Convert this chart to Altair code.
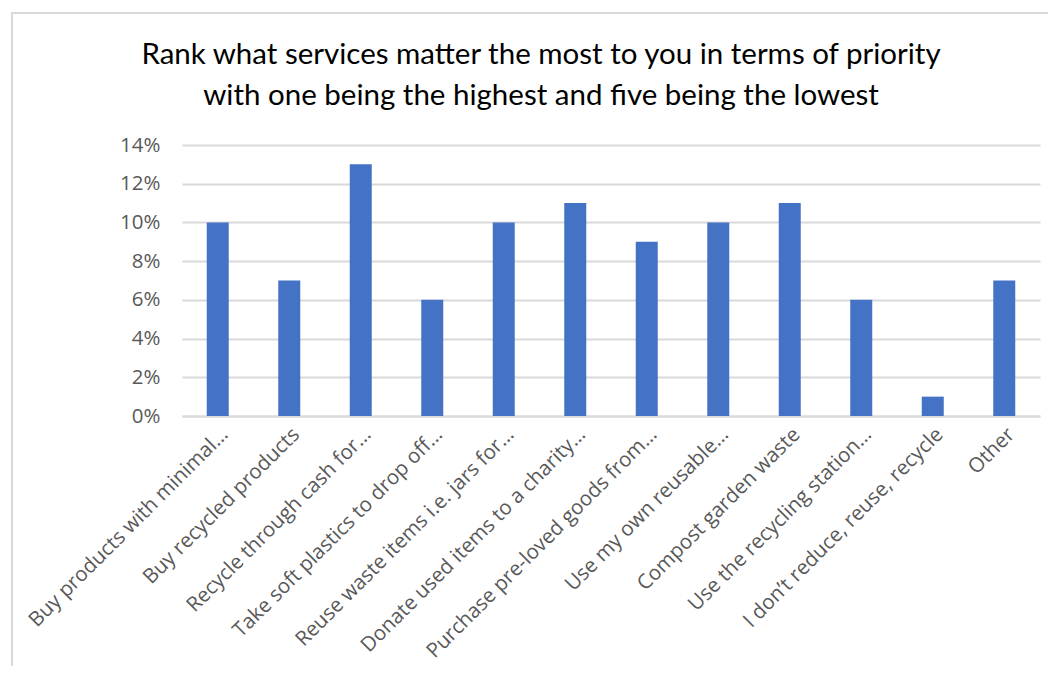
import altair as alt
import pandas as pd

categories = [
    "Buy products with minimal…",
    "Buy recycled products",
    "Recycle through cash for…",
    "Take soft plastics to drop off…",
    "Reuse waste items i.e. jars for…",
    "Donate used items to a charity…",
    "Purchase pre-loved goods from…",
    "Use my own reusable…",
    "Compost garden waste",
    "Use the recycling station…",
    "I don’t reduce, reuse, recycle",
    "Other",
]
values = [0.10, 0.07, 0.13, 0.06, 0.10, 0.11, 0.09, 0.10, 0.11, 0.06, 0.01, 0.07]
y_ticks = [0, 0.02, 0.04, 0.06, 0.08, 0.10, 0.12, 0.14]
title_lines = [
    "Rank what services matter the most to you in terms of priority",
    "with one being the highest and five being the lowest",
]

df = pd.DataFrame({"category": categories, "value": values})
tdf = pd.DataFrame({"line": title_lines, "i": [0, 1]})

PW, PH = 858, 271
LEFT, TOP = 182, 145
LABEL_FONT = "Open Sans"
TITLE_FONT = "Lato"

bars = alt.Chart(df).mark_bar(color="#4472C4", width=22).encode(
    x=alt.X("category:N", sort=categories, title=None,
            scale=alt.Scale(paddingInner=0, paddingOuter=0),
            axis=alt.Axis(labelAngle=-45, labelFontSize=20.5, labelColor="#595959",
                          labelFont=LABEL_FONT, ticks=False, domainColor="#d9d9d9",
                          domainWidth=2, labelPadding=8, labelLimit=400)),
    y=alt.Y("value:Q", title=None,
            scale=alt.Scale(domain=[0, 0.14], nice=False),
            axis=alt.Axis(format=".0%", values=y_ticks, labelFontSize=20.5,
                          labelColor="#595959", labelFont=LABEL_FONT, ticks=False,
                          domain=False, gridColor="#d9d9d9", gridWidth=2,
                          labelPadding=22)),
)

border = alt.Chart(df).mark_rect(fill=None, stroke="#d9d9d9", strokeWidth=1.5).encode(
    x=alt.value(12 - LEFT), x2=alt.value(1100 - LEFT),
    y=alt.value(13 - TOP), y2=alt.value(700 - TOP),
)

title = alt.Chart(tdf).mark_text(
    font=TITLE_FONT, fontSize=29.5, color="#000000", align="center", baseline="middle"
).encode(
    text="line:N",
    x=alt.value(541 - LEFT),
    y=alt.Y("i:Q", axis=None,
            scale=alt.Scale(domain=[0, 1], range=[55 - TOP, 96 - TOP])),
)

chart = alt.layer(border, bars, title).resolve_scale(y="independent").properties(
    width=PW, height=PH,
    autosize=alt.AutoSizeParams(type="none"),
    padding={"left": LEFT - 8, "top": TOP - 8, "right": 8, "bottom": 250},
).configure_view(stroke=None, clip=False)

chart.save("out.html", embed_options={"renderer": "svg", "actions": False})
